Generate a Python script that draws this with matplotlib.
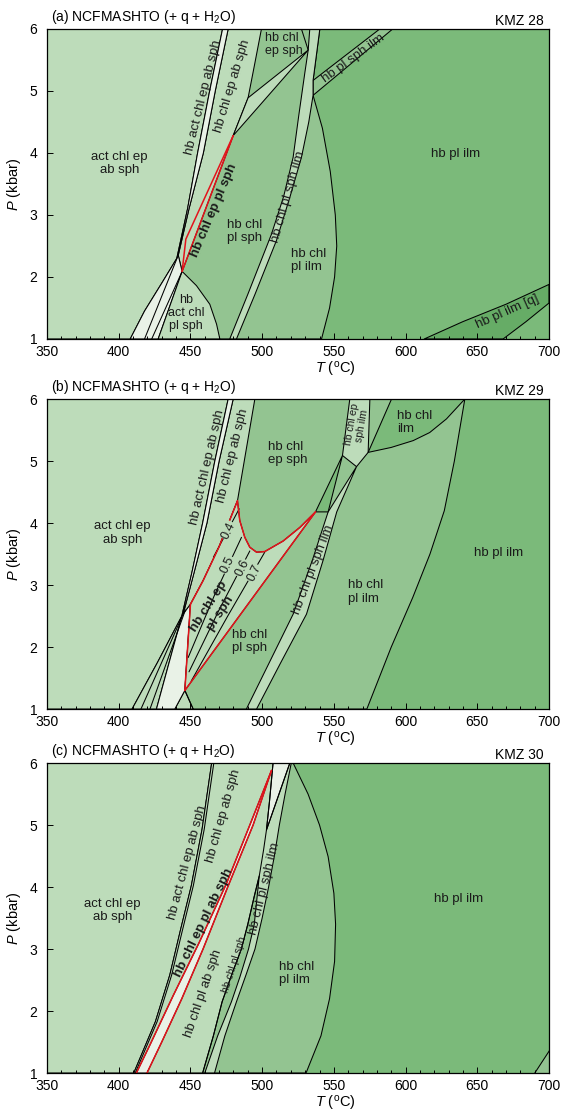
import matplotlib.pyplot as plt
from matplotlib.ticker import MultipleLocator

plt.rcParams['font.family'] = ['Liberation Sans', 'DejaVu Sans']
plt.rcParams['mathtext.fontset'] = 'custom'
plt.rcParams['mathtext.rm'] = 'Liberation Sans'
plt.rcParams['mathtext.it'] = 'Liberation Sans:italic'
plt.rcParams['mathtext.bf'] = 'Liberation Sans:bold'

# field colours
c_white = '#e9f2e7'
c_light = '#bddcba'
c_mid = '#93c491'
c_dark = '#7bba7a'
c_q = '#66ac66'
c_red = '#e3131b'

samples = ['KMZ 28', 'KMZ 29', 'KMZ 30']
tags = ['(a)', '(b)', '(c)']
x_ticks = [350, 400, 450, 500, 550, 600, 650, 700]
y_ticks = [1, 2, 3, 4, 5, 6]

# ---------- (a) KMZ 28 : boundaries as (T degC, P kbar) ----------
a_L1 = [(408, 1), (418, 1.45), (430, 1.9), (440.5, 2.3), (448, 3.1), (455, 4.0), (463.4, 5.0), (472.4, 6)]
a_L2 = [(441.5, 2.35), (449, 3.1), (459, 4.0), (467.3, 5.0), (476.3, 6)]
a_L2low = [(418, 1), (441.5, 2.35)]
a_L3 = [(423, 1), (444.2, 2.09)]
a_L3b = [(427.5, 1), (444.2, 2.09)]
a_L4 = [(499.5, 6), (494.5, 5.4), (490.2, 4.89), (479.8, 4.28)]
a_red_left = [(444.2, 2.09), (446.8, 2.61), (479.8, 4.28)]
a_red_right = [(444.2, 2.09), (479.8, 4.28)]
a_wedge = [(479.8, 4.28), (490.2, 4.89), (532.1, 5.66)]
a_act = [(444.2, 2.09), (454.2, 1.86), (463.5, 1.56), (468.2, 1.24), (470.5, 1)]
a_L5 = [(477.4, 1), (490, 1.72), (506.5, 2.69), (515, 3.3), (521.6, 3.93), (525.5, 4.6), (529.8, 5.3), (532.1, 5.66), (533.2, 6)]
a_L6 = [(482.1, 1), (495, 1.72), (510, 2.59), (519.5, 3.3), (527.4, 3.93), (532.5, 4.5), (535.5, 4.93), (535.5, 5.17), (540.2, 6)]
a_C1 = [(535.5, 4.93), (542, 4.4), (547.5, 3.7), (551, 3.0), (552, 2.5), (550.5, 2.0), (547, 1.5), (541.4, 1)]
a_top = [(527.4, 6), (532.1, 5.66)]
a_sph_ilm = [(535.5, 4.93), (591, 6), (582, 6), (535.5, 5.17)]
a_q_hi = [(613, 1), (640, 1.28), (670, 1.56), (700, 1.88)]
a_q_lo = [(668, 1), (684, 1.28), (700, 1.58)]

# ---------- (b) KMZ 29 ----------
b_L1 = [(409.3, 1), (427, 1.75), (444, 2.5), (451, 3.2), (458.5, 4.0), (467, 5.0), (476.3, 6)]
b_L2 = [(444.9, 2.53), (452.5, 3.2), (461.5, 4.0), (470, 5.0), (479.8, 6)]
b_L2low = [(415.5, 1), (444.9, 2.53)]
b_L3low = [(421.8, 1), (446.5, 2.6)]
b_white = [(426.3, 1), (439.1, 1), (446.1, 1.30), (450, 2.69), (444.9, 2.53)]
b_bot = [(446.1, 1.30), (451.9, 1)]
b_red_vert = [(446.1, 1.30), (450, 2.69)]
b_red_left = [(450, 2.69), (458.8, 3.07), (470, 3.62), (482.8, 4.36)]
b_red_top = [(482.8, 4.36), (484.4, 4.04), (487.9, 3.77), (491.4, 3.61), (496.1, 3.53), (501.8, 3.54),
             (514.6, 3.71), (526.3, 3.93), (537.2, 4.18)]
b_red_low = [(537.2, 4.18), (446.1, 1.30)]
b_L4 = [(494.9, 6), (489, 5.2), (482.8, 4.36)]
b_dark_tri = [(537.2, 4.18), (546, 4.18), (556, 5.09)]
b_L5 = [(489, 1), (505, 1.75), (521.6, 2.53), (535, 3.4), (546, 4.18), (565.8, 4.91)]
b_L6 = [(496.1, 1), (513, 1.75), (530.9, 2.53), (542.5, 3.4), (552, 4.18), (565.8, 4.91)]
b_ep_ilm = [(556, 5.09), (561.1, 6), (575.1, 6), (573.9, 5.14), (565.8, 4.91)]
b_chl_ilm = [(573.9, 5.14), (590.2, 6), (641.3, 6), (628.5, 5.68), (616.8, 5.46), (605.3, 5.33), (590, 5.22)]
b_C2 = [(573, 1), (590, 2.0), (605, 2.8), (617, 3.5), (627, 4.2), (634, 5.0), (641.3, 6)]
b_iso = {'0.4': [(466, 3.45), (484, 4.23)],
         '0.5': [(448.4, 1.83), (467, 2.85), (485.6, 3.77)],
         '0.6': [(449, 1.6), (470, 2.6), (491.4, 3.55)],
         '0.7': [(450.5, 1.45), (476, 2.5), (501.8, 3.53)]}

# ---------- (c) KMZ 30 ----------
c_L1 = [(410.5, 1), (425.6, 1.83), (435.6, 2.58), (443, 3.3), (450.6, 4.02), (458.1, 4.93), (464.8, 6)]
c_L2 = [(411.5, 1), (426.8, 1.83), (436.9, 2.58), (444.4, 3.3), (452, 4.02), (459.6, 4.93), (466.3, 6)]
c_red_left = [(412.3, 1), (421.7, 1.45), (438, 2.25), (456, 3.1), (475, 4.05), (491.4, 5.0), (506.5, 5.88)]
c_red_right = [(419.7, 1), (430, 1.5), (444, 2.2), (458.8, 3.0), (476, 4.0), (493.7, 5.0), (506.5, 5.88)]
c_A = [(458.5, 1), (466, 1.6), (472.1, 2.15), (479, 2.6), (485.5, 3.0), (490, 3.4), (494.5, 3.85),
       (498, 4.18), (501, 4.6), (503, 4.92), (505.2, 5.4), (507.6, 6)]
c_B = [(460, 1), (469, 1.6), (478.6, 2.15), (484.5, 2.55), (490.5, 3.0), (494.5, 3.4), (498, 4.18)]
c_W = [(503, 4.92), (519.3, 6)]
c_C = [(466.8, 1), (474, 1.6), (482.1, 2.15), (489, 2.6), (495, 3.0), (500, 3.5), (504.5, 4.0),
       (508.5, 4.5), (512, 5.0), (516, 5.5), (520.3, 6)]
c_C3 = [(521.6, 6), (532, 5.5), (540, 5.0), (546, 4.49), (550, 3.9), (551.2, 3.4), (550.5, 2.8),
        (547, 2.2), (541, 1.6), (530.6, 1)]
c_corner = [(689.5, 1), (700, 1), (700, 1.37)]


def field(ax, pts, color, lw=0.75):
    T, P = zip(*pts)
    ax.fill(T, P, facecolor=color, edgecolor='k', lw=lw, joinstyle='round')


def line(ax, pts, color='k', lw=0.75):
    T, P = zip(*pts)
    ax.plot(T, P, color=color, lw=lw, solid_capstyle='round', solid_joinstyle='round')


def label(ax, T, P, s, rot=0, size=9.5, bold=False, ha='center', **kw):
    ax.text(T, P, s, rotation=rot, fontsize=size, ha=ha, va='center',
            fontweight='bold' if bold else 'normal', rotation_mode='anchor',
            linespacing=1.15, color='#1a1a1a', **kw)


fig = plt.figure(figsize=(5.65, 11.11), dpi=100)
bottoms = [0.6949, 0.3618, 0.0342]
axes = []
for i, b in enumerate(bottoms):
    ax = fig.add_axes([0.0832, b, 0.8885, 0.279])
    ax.set_xlim(350, 700)
    ax.set_ylim(1, 6)
    ax.set_facecolor(c_dark)
    ax.set_xticks(x_ticks)
    ax.set_yticks(y_ticks)
    ax.xaxis.set_minor_locator(MultipleLocator(10))
    ax.tick_params(which='both', direction='in', labelsize=10, width=0.7)
    ax.tick_params(which='major', length=4)
    ax.tick_params(which='minor', length=2)
    ax.tick_params(axis='y', pad=7)
    ax.tick_params(axis='x', pad=4)
    ax.set_xlabel(r'$T$ ($^{\rm o}$C)', fontsize=10.5)
    ax.xaxis.set_label_coords(0.574, -0.068)
    ax.set_ylabel(r'$P$ (kbar)', fontsize=10.5)
    ax.yaxis.set_label_coords(-0.048, 0.5)
    for sp in ax.spines.values():
        sp.set_linewidth(0.9)
        sp.set_zorder(10)
    ax.text(0.008, 1.01, tags[i] + r' NCFMASHTO (+ q + H$_2$O)', transform=ax.transAxes,
            ha='left', va='bottom', fontsize=10)
    ax.text(0.99, 1.004, samples[i], transform=ax.transAxes, ha='right', va='bottom', fontsize=10)
    axes.append(ax)

# ---------------- panel (a) ----------------
ax = axes[0]
field(ax, [(350, 1)] + a_C1[::-1] + [(535.5, 5.17), (540.2, 6), (350, 6)], c_mid)
field(ax, a_sph_ilm, c_mid)
field(ax, a_q_hi + a_q_lo[::-1], c_q)
field(ax, [(350, 1)] + a_L1 + [(350, 6)], c_light)
field(ax, a_L2 + [(499.5, 6)] + a_L4[1:] + a_red_right[::-1], c_light)
field(ax, a_L1 + [(476.3, 6)] + a_L2[::-1][1:] + [(444.2, 2.09), (427.5, 1)], c_white)
field(ax, [(427.5, 1)] + a_act, c_light)
field(ax, a_wedge, c_light)
field(ax, a_L5 + a_L6[::-1], c_light)
line(ax, a_L2low)
line(ax, a_L3)
line(ax, a_top)
line(ax, a_red_left, c_red, 1.1)
line(ax, a_red_right, c_red, 1.1)

label(ax, 400.5, 3.83, 'act chl ep\nab sph')
label(ax, 459.3, 4.89, 'hb act chl ep ab sph', rot=76)
label(ax, 479.3, 5.08, 'hb chl ep ab sph', rot=73)
label(ax, 502, 5.75, 'hb chl\nep sph', ha='left', size=9)
label(ax, 563.4, 5.52, 'hb pl sph ilm', rot=36)
label(ax, 466.8, 3.07, 'hb chl ep pl sph', rot=67, bold=True)
label(ax, 475.6, 2.73, 'hb chl\npl sph', ha='left')
label(ax, 518.1, 3.29, 'hb chl pl sph ilm', rot=74)
label(ax, 520.1, 2.27, 'hb chl\npl ilm', ha='left')
label(ax, 634.5, 3.98, 'hb pl ilm')
label(ax, 447, 1.42, 'hb\nact chl\npl sph', size=9)
label(ax, 670.7, 1.44, 'hb pl ilm [q]', rot=24)

# ---------------- panel (b) ----------------
ax = axes[1]
field(ax, [(350, 1)] + b_C2 + [(350, 6)], c_mid)
field(ax, [(350, 1)] + b_L1 + [(350, 6)], c_light)
field(ax, b_L1[:3] + [(426.3, 1)], c_light)
field(ax, [(439.1, 1), (446.1, 1.30), (451.9, 1)], c_light)
field(ax, b_L2 + [(494.9, 6)] + b_L4[1:] + b_red_left[::-1][1:], c_light)
field(ax, b_white + b_L2[1:] + b_L1[::-1][:5], c_white)
field(ax, b_red_left + b_red_top[1:] + [(446.1, 1.30)], c_light)
field(ax, b_L5 + b_L6[::-1], c_light)
field(ax, b_dark_tri, c_dark)
field(ax, b_ep_ilm, c_light)
field(ax, b_chl_ilm, c_dark)
line(ax, b_L2low)
line(ax, b_L3low)
line(ax, b_bot)
for key, pts in b_iso.items():
    line(ax, pts)
line(ax, b_red_vert, c_red, 1.1)
line(ax, b_red_left, c_red, 1.1)
line(ax, b_red_top, c_red, 1.1)
line(ax, b_red_low, c_red, 1.1)

bb = dict(boxstyle='square,pad=0.05', fc=c_light, ec='none')
label(ax, 476.3, 3.88, '0.4', rot=64, size=9, bbox=bb)
label(ax, 475.6, 3.33, '0.5', rot=64, size=9, bbox=bb)
label(ax, 486.1, 3.27, '0.6', rot=64, size=9, bbox=bb)
label(ax, 494.4, 3.19, '0.7', rot=64, size=9, bbox=bb)
label(ax, 402.5, 3.84, 'act chl ep\nab sph')
label(ax, 461.8, 4.9, 'hb act chl ep ab sph', rot=77)
label(ax, 479.3, 5.09, 'hb chl ep ab sph', rot=76)
label(ax, 504.4, 5.12, 'hb chl\nep sph', ha='left')
label(ax, 566, 5.58, 'hb chl ep\nsph ilm', rot=80, size=7.5)
label(ax, 594, 5.62, 'hb chl\nilm', ha='left')
label(ax, 466.8, 2.6, 'hb chl ep\npl sph', rot=57, bold=True)
label(ax, 479.3, 2.09, 'hb chl\npl sph', ha='left')
label(ax, 535.6, 3.24, 'hb chl pl sph ilm', rot=69)
label(ax, 559.9, 2.89, 'hb chl\npl ilm', ha='left')
label(ax, 664.5, 3.52, 'hb pl ilm')

# ---------------- panel (c) ----------------
ax = axes[2]
field(ax, [(350, 1)] + c_C3[::-1] + [(350, 6)], c_mid)
field(ax, c_corner, c_mid)
field(ax, [(350, 1)] + c_L1 + [(350, 6)], c_light)
field(ax, c_L1 + c_C[::-1], c_light)
field(ax, c_red_left + c_red_right[::-1], c_white)
field(ax, c_A[:8] + c_B[::-1], c_mid)
field(ax, c_A[9:] + [(519.3, 6)], c_white)
line(ax, c_L2)
line(ax, c_A)
line(ax, c_W)
line(ax, c_red_left, c_red, 1.1)
line(ax, c_red_right, c_red, 1.1)

label(ax, 395.5, 3.62, 'act chl ep\nab sph')
label(ax, 448.1, 4.4, 'hb act chl ep ab sph', rot=75)
label(ax, 473.1, 5.14, 'hb chl ep ab sph', rot=74)
label(ax, 459.3, 3.43, 'hb chl ep pl ab sph', rot=64, bold=True)
label(ax, 459.3, 2.28, 'hb chl pl ab sph', rot=71)
label(ax, 480.6, 2.74, 'hb chl pl sph', rot=72, size=7.5)
label(ax, 501.9, 3.97, 'hb chl pl sph ilm', rot=76)
label(ax, 511.9, 2.6, 'hb chl\npl ilm', ha='left')
label(ax, 637, 3.81, 'hb pl ilm')

fig.savefig('out.png', dpi=100)
